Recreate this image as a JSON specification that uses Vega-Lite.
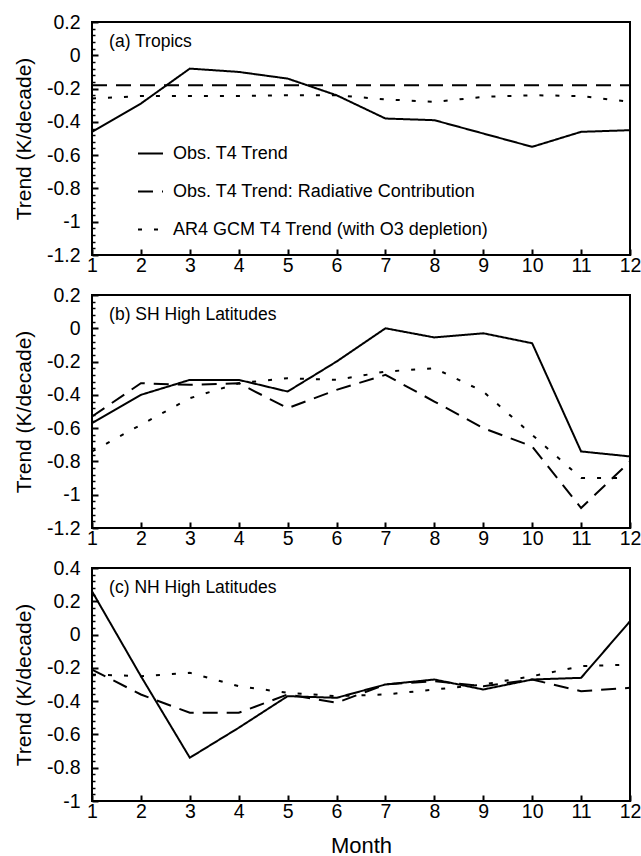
{
  "$schema": "https://vega.github.io/schema/vega-lite/v6.json",
  "padding": {"left": 12, "top": 11, "right": 2, "bottom": 0},
  "spacing": 40,
  "bounds": "flush",
  "config": {
    "font": "Liberation Sans",
    "locale": {"number": {"decimal": ".", "thousands": ",", "grouping": [3], "currency": ["$", ""], "minus": "-"}},
    "view": {"stroke": "black", "strokeWidth": 2},
    "axis": {
      "domain": false, "tickColor": "black", "tickWidth": 2, "tickOpacity": 1, "ticks": true,
      "labelColor": "black", "titleColor": "black", "grid": false,
      "labelFont": "Liberation Sans", "titleFont": "Liberation Sans",
      "labelFontSize": 19.5, "titleFontSize": 21, "titleFontWeight": "normal",
      "labelOverlap": false, "labelFlush": false
    },
    "legend": {
      "labelFont": "Liberation Sans", "labelFontSize": 18, "labelColor": "black", "labelLimit": 0,
      "symbolType": "stroke", "symbolSize": 625, "symbolStrokeWidth": 2, "symbolStrokeColor": "black",
      "padding": 0, "rowPadding": 15, "labelOffset": 9
    }
  },
  "datasets": {
    "trend": [
      {"panel": "a", "series": "Obs. T4 Trend", "month": 1, "value": -0.46},
      {"panel": "a", "series": "Obs. T4 Trend", "month": 2, "value": -0.29},
      {"panel": "a", "series": "Obs. T4 Trend", "month": 3, "value": -0.08},
      {"panel": "a", "series": "Obs. T4 Trend", "month": 4, "value": -0.10},
      {"panel": "a", "series": "Obs. T4 Trend", "month": 5, "value": -0.14},
      {"panel": "a", "series": "Obs. T4 Trend", "month": 6, "value": -0.24},
      {"panel": "a", "series": "Obs. T4 Trend", "month": 7, "value": -0.38},
      {"panel": "a", "series": "Obs. T4 Trend", "month": 8, "value": -0.39},
      {"panel": "a", "series": "Obs. T4 Trend", "month": 9, "value": -0.47},
      {"panel": "a", "series": "Obs. T4 Trend", "month": 10, "value": -0.55},
      {"panel": "a", "series": "Obs. T4 Trend", "month": 11, "value": -0.46},
      {"panel": "a", "series": "Obs. T4 Trend", "month": 12, "value": -0.45},
      {"panel": "a", "series": "Obs. T4 Trend: Radiative Contribution", "month": 1, "value": -0.18},
      {"panel": "a", "series": "Obs. T4 Trend: Radiative Contribution", "month": 2, "value": -0.18},
      {"panel": "a", "series": "Obs. T4 Trend: Radiative Contribution", "month": 3, "value": -0.18},
      {"panel": "a", "series": "Obs. T4 Trend: Radiative Contribution", "month": 4, "value": -0.18},
      {"panel": "a", "series": "Obs. T4 Trend: Radiative Contribution", "month": 5, "value": -0.18},
      {"panel": "a", "series": "Obs. T4 Trend: Radiative Contribution", "month": 6, "value": -0.18},
      {"panel": "a", "series": "Obs. T4 Trend: Radiative Contribution", "month": 7, "value": -0.18},
      {"panel": "a", "series": "Obs. T4 Trend: Radiative Contribution", "month": 8, "value": -0.18},
      {"panel": "a", "series": "Obs. T4 Trend: Radiative Contribution", "month": 9, "value": -0.18},
      {"panel": "a", "series": "Obs. T4 Trend: Radiative Contribution", "month": 10, "value": -0.18},
      {"panel": "a", "series": "Obs. T4 Trend: Radiative Contribution", "month": 11, "value": -0.18},
      {"panel": "a", "series": "Obs. T4 Trend: Radiative Contribution", "month": 12, "value": -0.18},
      {"panel": "a", "series": "AR4 GCM T4 Trend (with O3 depletion)", "month": 1, "value": -0.26},
      {"panel": "a", "series": "AR4 GCM T4 Trend (with O3 depletion)", "month": 2, "value": -0.245},
      {"panel": "a", "series": "AR4 GCM T4 Trend (with O3 depletion)", "month": 3, "value": -0.245},
      {"panel": "a", "series": "AR4 GCM T4 Trend (with O3 depletion)", "month": 4, "value": -0.245},
      {"panel": "a", "series": "AR4 GCM T4 Trend (with O3 depletion)", "month": 5, "value": -0.24},
      {"panel": "a", "series": "AR4 GCM T4 Trend (with O3 depletion)", "month": 6, "value": -0.24},
      {"panel": "a", "series": "AR4 GCM T4 Trend (with O3 depletion)", "month": 7, "value": -0.265},
      {"panel": "a", "series": "AR4 GCM T4 Trend (with O3 depletion)", "month": 8, "value": -0.28},
      {"panel": "a", "series": "AR4 GCM T4 Trend (with O3 depletion)", "month": 9, "value": -0.25},
      {"panel": "a", "series": "AR4 GCM T4 Trend (with O3 depletion)", "month": 10, "value": -0.24},
      {"panel": "a", "series": "AR4 GCM T4 Trend (with O3 depletion)", "month": 11, "value": -0.245},
      {"panel": "a", "series": "AR4 GCM T4 Trend (with O3 depletion)", "month": 12, "value": -0.28},

      {"panel": "b", "series": "Obs. T4 Trend", "month": 1, "value": -0.57},
      {"panel": "b", "series": "Obs. T4 Trend", "month": 2, "value": -0.40},
      {"panel": "b", "series": "Obs. T4 Trend", "month": 3, "value": -0.31},
      {"panel": "b", "series": "Obs. T4 Trend", "month": 4, "value": -0.31},
      {"panel": "b", "series": "Obs. T4 Trend", "month": 5, "value": -0.38},
      {"panel": "b", "series": "Obs. T4 Trend", "month": 6, "value": -0.20},
      {"panel": "b", "series": "Obs. T4 Trend", "month": 7, "value": 0.0},
      {"panel": "b", "series": "Obs. T4 Trend", "month": 8, "value": -0.055},
      {"panel": "b", "series": "Obs. T4 Trend", "month": 9, "value": -0.03},
      {"panel": "b", "series": "Obs. T4 Trend", "month": 10, "value": -0.09},
      {"panel": "b", "series": "Obs. T4 Trend", "month": 11, "value": -0.74},
      {"panel": "b", "series": "Obs. T4 Trend", "month": 12, "value": -0.77},
      {"panel": "b", "series": "Obs. T4 Trend: Radiative Contribution", "month": 1, "value": -0.53},
      {"panel": "b", "series": "Obs. T4 Trend: Radiative Contribution", "month": 2, "value": -0.33},
      {"panel": "b", "series": "Obs. T4 Trend: Radiative Contribution", "month": 3, "value": -0.34},
      {"panel": "b", "series": "Obs. T4 Trend: Radiative Contribution", "month": 4, "value": -0.33},
      {"panel": "b", "series": "Obs. T4 Trend: Radiative Contribution", "month": 5, "value": -0.48},
      {"panel": "b", "series": "Obs. T4 Trend: Radiative Contribution", "month": 6, "value": -0.37},
      {"panel": "b", "series": "Obs. T4 Trend: Radiative Contribution", "month": 7, "value": -0.28},
      {"panel": "b", "series": "Obs. T4 Trend: Radiative Contribution", "month": 8, "value": -0.44},
      {"panel": "b", "series": "Obs. T4 Trend: Radiative Contribution", "month": 9, "value": -0.60},
      {"panel": "b", "series": "Obs. T4 Trend: Radiative Contribution", "month": 10, "value": -0.71},
      {"panel": "b", "series": "Obs. T4 Trend: Radiative Contribution", "month": 11, "value": -1.08},
      {"panel": "b", "series": "Obs. T4 Trend: Radiative Contribution", "month": 12, "value": -0.80},
      {"panel": "b", "series": "AR4 GCM T4 Trend (with O3 depletion)", "month": 1, "value": -0.74},
      {"panel": "b", "series": "AR4 GCM T4 Trend (with O3 depletion)", "month": 2, "value": -0.58},
      {"panel": "b", "series": "AR4 GCM T4 Trend (with O3 depletion)", "month": 3, "value": -0.42},
      {"panel": "b", "series": "AR4 GCM T4 Trend (with O3 depletion)", "month": 4, "value": -0.33},
      {"panel": "b", "series": "AR4 GCM T4 Trend (with O3 depletion)", "month": 5, "value": -0.30},
      {"panel": "b", "series": "AR4 GCM T4 Trend (with O3 depletion)", "month": 6, "value": -0.31},
      {"panel": "b", "series": "AR4 GCM T4 Trend (with O3 depletion)", "month": 7, "value": -0.26},
      {"panel": "b", "series": "AR4 GCM T4 Trend (with O3 depletion)", "month": 8, "value": -0.24},
      {"panel": "b", "series": "AR4 GCM T4 Trend (with O3 depletion)", "month": 9, "value": -0.38},
      {"panel": "b", "series": "AR4 GCM T4 Trend (with O3 depletion)", "month": 10, "value": -0.64},
      {"panel": "b", "series": "AR4 GCM T4 Trend (with O3 depletion)", "month": 11, "value": -0.90},
      {"panel": "b", "series": "AR4 GCM T4 Trend (with O3 depletion)", "month": 12, "value": -0.90},

      {"panel": "c", "series": "Obs. T4 Trend", "month": 1, "value": 0.26},
      {"panel": "c", "series": "Obs. T4 Trend", "month": 2, "value": -0.25},
      {"panel": "c", "series": "Obs. T4 Trend", "month": 3, "value": -0.74},
      {"panel": "c", "series": "Obs. T4 Trend", "month": 4, "value": -0.56},
      {"panel": "c", "series": "Obs. T4 Trend", "month": 5, "value": -0.37},
      {"panel": "c", "series": "Obs. T4 Trend", "month": 6, "value": -0.38},
      {"panel": "c", "series": "Obs. T4 Trend", "month": 7, "value": -0.30},
      {"panel": "c", "series": "Obs. T4 Trend", "month": 8, "value": -0.27},
      {"panel": "c", "series": "Obs. T4 Trend", "month": 9, "value": -0.33},
      {"panel": "c", "series": "Obs. T4 Trend", "month": 10, "value": -0.27},
      {"panel": "c", "series": "Obs. T4 Trend", "month": 11, "value": -0.26},
      {"panel": "c", "series": "Obs. T4 Trend", "month": 12, "value": 0.08},
      {"panel": "c", "series": "Obs. T4 Trend: Radiative Contribution", "month": 1, "value": -0.21},
      {"panel": "c", "series": "Obs. T4 Trend: Radiative Contribution", "month": 2, "value": -0.36},
      {"panel": "c", "series": "Obs. T4 Trend: Radiative Contribution", "month": 3, "value": -0.47},
      {"panel": "c", "series": "Obs. T4 Trend: Radiative Contribution", "month": 4, "value": -0.47},
      {"panel": "c", "series": "Obs. T4 Trend: Radiative Contribution", "month": 5, "value": -0.36},
      {"panel": "c", "series": "Obs. T4 Trend: Radiative Contribution", "month": 6, "value": -0.41},
      {"panel": "c", "series": "Obs. T4 Trend: Radiative Contribution", "month": 7, "value": -0.30},
      {"panel": "c", "series": "Obs. T4 Trend: Radiative Contribution", "month": 8, "value": -0.28},
      {"panel": "c", "series": "Obs. T4 Trend: Radiative Contribution", "month": 9, "value": -0.31},
      {"panel": "c", "series": "Obs. T4 Trend: Radiative Contribution", "month": 10, "value": -0.27},
      {"panel": "c", "series": "Obs. T4 Trend: Radiative Contribution", "month": 11, "value": -0.34},
      {"panel": "c", "series": "Obs. T4 Trend: Radiative Contribution", "month": 12, "value": -0.32},
      {"panel": "c", "series": "AR4 GCM T4 Trend (with O3 depletion)", "month": 1, "value": -0.24},
      {"panel": "c", "series": "AR4 GCM T4 Trend (with O3 depletion)", "month": 2, "value": -0.25},
      {"panel": "c", "series": "AR4 GCM T4 Trend (with O3 depletion)", "month": 3, "value": -0.23},
      {"panel": "c", "series": "AR4 GCM T4 Trend (with O3 depletion)", "month": 4, "value": -0.31},
      {"panel": "c", "series": "AR4 GCM T4 Trend (with O3 depletion)", "month": 5, "value": -0.35},
      {"panel": "c", "series": "AR4 GCM T4 Trend (with O3 depletion)", "month": 6, "value": -0.37},
      {"panel": "c", "series": "AR4 GCM T4 Trend (with O3 depletion)", "month": 7, "value": -0.36},
      {"panel": "c", "series": "AR4 GCM T4 Trend (with O3 depletion)", "month": 8, "value": -0.33},
      {"panel": "c", "series": "AR4 GCM T4 Trend (with O3 depletion)", "month": 9, "value": -0.30},
      {"panel": "c", "series": "AR4 GCM T4 Trend (with O3 depletion)", "month": 10, "value": -0.25},
      {"panel": "c", "series": "AR4 GCM T4 Trend (with O3 depletion)", "month": 11, "value": -0.19},
      {"panel": "c", "series": "AR4 GCM T4 Trend (with O3 depletion)", "month": 12, "value": -0.18}
    ]
  },
  "resolve": {"scale": {"strokeDash": "independent"}, "legend": {"strokeDash": "independent"}},
  "vconcat": [
    {
      "width": 538, "height": 233,
      "resolve": {"axis": {"y": "independent"}},
      "layer": [
        {
          "data": {"name": "trend"},
          "transform": [{"filter": "datum.panel === 'a'"}],
          "mark": {"type": "line", "color": "black", "strokeWidth": 2},
          "encoding": {
            "x": {"field": "month", "type": "quantitative",
              "scale": {"domain": [1, 12], "nice": false, "zero": false},
              "axis": {"title": null, "values": [1,2,3,4,5,6,7,8,9,10,11,12], "format": "d", "ticks": true, "tickColor": "black", "tickSize": 6, "offset": -6, "labelPadding": 1}},
            "y": {"field": "value", "type": "quantitative",
              "scale": {"domain": [-1.2, 0.2], "nice": false, "zero": false},
              "axis": {"orient": "left", "title": "Trend (K/decade)", "titlePadding": 12, "labelPadding": 12, "format": "~g", "ticks": true, "tickColor": "black", "tickSize": 6, "offset": -6,
                "values": [-1.2, -1, -0.8, -0.6, -0.4, -0.2, 0, 0.2]}},
            "strokeDash": {"field": "series", "type": "nominal",
              "scale": {"domain": ["Obs. T4 Trend", "Obs. T4 Trend: Radiative Contribution", "AR4 GCM T4 Trend (with O3 depletion)"], "range": [[1, 0], [15, 9], [4, 12]]},
              "legend": {"title": null, "orient": "none", "legendX": 45, "legendY": 118}}
          }
        },
        {
          "data": {"values": [{"label": "(a) Tropics"}]},
          "mark": {"type": "text", "align": "left", "baseline": "middle", "fontSize": 17.5, "color": "black", "font": "Liberation Sans"},
          "encoding": {"x": {"datum": 1.35},
            "y": {"datum": 0.08, "type": "quantitative",
              "axis": {"orient": "left", "title": null, "labels": false, "ticks": true, "tickColor": "black", "tickSize": 3, "offset": -3, "tickWidth": 1.5,
                "values": [-1.16,-1.12,-1.08,-1.04,-0.96,-0.92,-0.88,-0.84,-0.76,-0.72,-0.68,-0.64,-0.56,-0.52,-0.48,-0.44,-0.36,-0.32,-0.28,-0.24,-0.16,-0.12,-0.08,-0.04,0.04,0.08,0.12,0.16]}},
            "text": {"field": "label"}}
        }
      ]
    },
    {
      "width": 538, "height": 233,
      "resolve": {"axis": {"y": "independent"}},
      "layer": [
        {
          "data": {"name": "trend"},
          "transform": [{"filter": "datum.panel === 'b'"}],
          "mark": {"type": "line", "color": "black", "strokeWidth": 2},
          "encoding": {
            "x": {"field": "month", "type": "quantitative",
              "scale": {"domain": [1, 12], "nice": false, "zero": false},
              "axis": {"title": null, "values": [1,2,3,4,5,6,7,8,9,10,11,12], "format": "d", "ticks": true, "tickColor": "black", "tickSize": 6, "offset": -6, "labelPadding": 1}},
            "y": {"field": "value", "type": "quantitative",
              "scale": {"domain": [-1.2, 0.2], "nice": false, "zero": false},
              "axis": {"orient": "left", "title": "Trend (K/decade)", "titlePadding": 12, "labelPadding": 12, "format": "~g", "ticks": true, "tickColor": "black", "tickSize": 6, "offset": -6,
                "values": [-1.2, -1, -0.8, -0.6, -0.4, -0.2, 0, 0.2]}},
            "strokeDash": {"field": "series", "type": "nominal",
              "scale": {"domain": ["Obs. T4 Trend", "Obs. T4 Trend: Radiative Contribution", "AR4 GCM T4 Trend (with O3 depletion)"], "range": [[1, 0], [15, 9], [4, 12]]},
              "legend": null}
          }
        },
        {
          "data": {"values": [{"label": "(b) SH High Latitudes"}]},
          "mark": {"type": "text", "align": "left", "baseline": "middle", "fontSize": 17.5, "color": "black", "font": "Liberation Sans"},
          "encoding": {"x": {"datum": 1.35},
            "y": {"datum": 0.08, "type": "quantitative",
              "axis": {"orient": "left", "title": null, "labels": false, "ticks": true, "tickColor": "black", "tickSize": 3, "offset": -3, "tickWidth": 1.5,
                "values": [-1.16,-1.12,-1.08,-1.04,-0.96,-0.92,-0.88,-0.84,-0.76,-0.72,-0.68,-0.64,-0.56,-0.52,-0.48,-0.44,-0.36,-0.32,-0.28,-0.24,-0.16,-0.12,-0.08,-0.04,0.04,0.08,0.12,0.16]}},
            "text": {"field": "label"}}
        }
      ]
    },
    {
      "width": 538, "height": 233,
      "resolve": {"axis": {"y": "independent"}},
      "layer": [
        {
          "data": {"name": "trend"},
          "transform": [{"filter": "datum.panel === 'c'"}],
          "mark": {"type": "line", "color": "black", "strokeWidth": 2},
          "encoding": {
            "x": {"field": "month", "type": "quantitative",
              "scale": {"domain": [1, 12], "nice": false, "zero": false},
              "axis": {"title": "Month", "titlePadding": 15, "titleFontSize": 22, "values": [1,2,3,4,5,6,7,8,9,10,11,12], "format": "d", "ticks": true, "tickColor": "black", "tickSize": 6, "offset": -6, "labelPadding": 1}},
            "y": {"field": "value", "type": "quantitative",
              "scale": {"domain": [-1, 0.4], "nice": false, "zero": false},
              "axis": {"orient": "left", "title": "Trend (K/decade)", "titlePadding": 12, "labelPadding": 12, "format": "~g", "ticks": true, "tickColor": "black", "tickSize": 6, "offset": -6,
                "values": [-1, -0.8, -0.6, -0.4, -0.2, 0, 0.2, 0.4]}},
            "strokeDash": {"field": "series", "type": "nominal",
              "scale": {"domain": ["Obs. T4 Trend", "Obs. T4 Trend: Radiative Contribution", "AR4 GCM T4 Trend (with O3 depletion)"], "range": [[1, 0], [15, 9], [4, 12]]},
              "legend": null}
          }
        },
        {
          "data": {"values": [{"label": "(c) NH High Latitudes"}]},
          "mark": {"type": "text", "align": "left", "baseline": "middle", "fontSize": 17.5, "color": "black", "font": "Liberation Sans"},
          "encoding": {"x": {"datum": 1.35},
            "y": {"datum": 0.28, "type": "quantitative",
              "axis": {"orient": "left", "title": null, "labels": false, "ticks": true, "tickColor": "black", "tickSize": 3, "offset": -3, "tickWidth": 1.5,
                "values": [-0.96,-0.92,-0.88,-0.84,-0.76,-0.72,-0.68,-0.64,-0.56,-0.52,-0.48,-0.44,-0.36,-0.32,-0.28,-0.24,-0.16,-0.12,-0.08,-0.04,0.04,0.08,0.12,0.16,0.24,0.28,0.32,0.36]}},
            "text": {"field": "label"}}
        }
      ]
    }
  ]
}
